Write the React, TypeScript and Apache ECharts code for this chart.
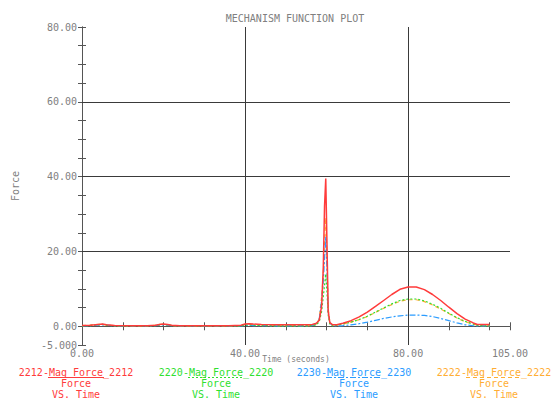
import React, { useEffect, useRef } from "react";
import * as echarts from "echarts";

// Sample times (seconds) shared by all four force traces
const time = [
  0, 2, 4, 5, 6, 8, 12, 16, 18, 19, 20, 21, 22, 24, 28, 32, 36, 39, 40, 41, 42, 44, 48, 52, 55,
  56.5, 57.5, 58.2, 58.8, 59.2, 59.5, 59.8, 60.1, 60.4, 60.8, 61.5, 62.5, 64, 66, 68, 70, 72, 74,
  76, 78, 80, 82, 84, 86, 88, 90, 92, 94, 96, 97, 98.5, 100,
];

const force2212 = [
  0.2, 0.3, 0.5, 0.6, 0.4, 0.2, 0.15, 0.15, 0.3, 0.5, 0.6, 0.5, 0.3, 0.15, 0.15, 0.15, 0.15, 0.3,
  0.6, 0.7, 0.6, 0.5, 0.4, 0.4, 0.4, 0.5, 0.8, 1.6, 5.5, 16, 32, 39.5, 22, 4, 1.0, 0.4, 0.4, 0.8,
  1.5, 2.5, 3.8, 5.3, 6.9, 8.5, 9.9, 10.5, 10.5, 9.8, 8.5, 6.9, 5.1, 3.4, 1.9, 0.9, 0.5, 0.5, 0.5,
];

const force2220 = [
  0.1, 0.2, 0.4, 0.5, 0.3, 0.1, 0.1, 0.1, 0.2, 0.4, 0.5, 0.4, 0.2, 0.1, 0.1, 0.1, 0.1, 0.1, 0.3,
  0.4, 0.3, 0.2, 0.1, 0.1, 0.1, 0.2, 0.4, 1.2, 4, 8, 11, 14, 9, 3, 0.6, 0.1, 0.3, 0.6, 1.1, 1.8,
  2.7, 3.8, 4.9, 6.0, 6.9, 7.3, 7.3, 6.8, 5.9, 4.8, 3.5, 2.3, 1.3, 0.6, 0.3, 0.1, 0.1,
];

const force2230 = [
  0.1, 0.2, 0.3, 0.4, 0.3, 0.1, 0.1, 0.1, 0.2, 0.3, 0.4, 0.3, 0.2, 0.1, 0.1, 0.1, 0.1, 0.1, 0.2,
  0.3, 0.2, 0.2, 0.1, 0.1, 0.1, 0.2, 0.5, 2, 7, 12, 18, 24, 15, 4, 0.8, 0.2, 0.1, 0.2, 0.4, 0.7,
  1.1, 1.6, 2.1, 2.5, 2.8, 3.0, 3.0, 2.9, 2.6, 2.1, 1.5, 0.9, 0.4, 0.15, 0.1, 0.1, 0.1,
];

const force2222 = [
  0.2, 0.3, 0.5, 0.5, 0.3, 0.2, 0.1, 0.1, 0.3, 0.5, 0.5, 0.4, 0.2, 0.1, 0.1, 0.1, 0.1, 0.2, 0.4,
  0.5, 0.4, 0.3, 0.2, 0.2, 0.2, 0.2, 0.5, 2, 8, 14, 22, 29, 18, 5, 1.0, 0.3, 0.3, 0.6, 1.1, 1.8,
  2.6, 3.7, 4.8, 5.8, 6.7, 7.1, 7.1, 6.6, 5.7, 4.6, 3.4, 2.2, 1.2, 0.6, 0.3, 0.2, 0.2,
];

const seriesNames = [
  "2212-Mag Force_2212",
  "2220-Mag Force_2220",
  "2230-Mag Force_2230",
  "2222-Mag Force_2222",
];
const seriesValues = [force2212, force2220, force2230, force2222];
const seriesColors = ["#ff3b3b", "#2fe02f", "#2b9cff", "#ffad33"];
const seriesDash: (number[] | "solid")[] = ["solid", [2, 2], [6, 2, 2, 2], [4, 3]];

const xLabelValues = [0, 40, 80, 105];
const yLabelValues = [-5, 0, 20, 40, 60, 80];
const xGridValues = [40, 80];
const yGridValues = [20, 40, 60];

const titleText = "MECHANISM FUNCTION PLOT";
const xAxisTitle = "Time (seconds)";
const yAxisTitle = "Force";
const legendLine2 = "Force";
const legendLine3 = "VS. Time";

const FONT = "'DejaVu Sans Mono', monospace";
const TEXT_GRAY = "#808080";
const AXIS_GRAY = "#555";

export default function App() {
  const ref = useRef<HTMLDivElement>(null);

  useEffect(() => {
    if (!ref.current) return;
    const chart = echarts.init(ref.current, undefined, { renderer: "svg" });

    const legendCenters = [76, 216, 354, 494];
    const legendGraphics: any[] = [];
    seriesNames.forEach((name, i) => {
      const cx = legendCenters[i];
      const color = seriesColors[i];
      [name, legendLine2, legendLine3].forEach((t, k) => {
        legendGraphics.push({
          type: "text",
          x: cx,
          y: [372, 383, 394][k],
          style: {
            text: t,
            fill: color,
            font: `10px ${FONT}`,
            align: "center",
            verticalAlign: "middle",
          },
        });
      });
      legendGraphics.push({
        type: "line",
        shape: { x1: cx - 28, y1: 377.5, x2: cx + 28, y2: 377.5 },
        style: {
          stroke: color,
          lineWidth: 1.2,
          lineDash: seriesDash[i] === "solid" ? null : (seriesDash[i] as number[]),
        },
      });
    });

    const fmt = (v: number, list: number[]) => {
      if (!list.some((x) => Math.abs(x - v) < 1e-6)) return "";
      return v < 0 ? v.toFixed(3) : v.toFixed(2);
    };

    const option: any = {
      animation: false,
      backgroundColor: "#fff",
      title: {
        text: titleText,
        left: 290,
        top: 8,
        textAlign: "center",
        textStyle: { fontFamily: FONT, fontSize: 10, fontWeight: "normal", color: TEXT_GRAY },
      },
      grid: { left: 82, right: 48, top: 27, bottom: 56 },
      xAxis: [
        {
          type: "value",
          min: 0,
          max: 105,
          interval: 10,
          position: "bottom",
          name: xAxisTitle,
          nameLocation: "middle",
          nameGap: 10,
          nameMoveOverlap: false,
          nameTextStyle: {
            fontFamily: FONT,
            fontSize: 8,
            color: TEXT_GRAY,
          },
          axisLine: { lineStyle: { color: AXIS_GRAY, width: 1 } },
          axisTick: { inside: true, length: 4, lineStyle: { color: AXIS_GRAY } },
          axisLabel: {
            margin: 3,
            fontFamily: FONT,
            fontSize: 10,
            color: TEXT_GRAY,
            showMinLabel: true,
            showMaxLabel: true,
            hideOverlap: false,
            formatter: (v: number) => fmt(v, xLabelValues),
          },
          splitLine: { show: false },
        },
        {
          type: "value",
          min: 0,
          max: 105,
          interval: 10,
          position: "top",
          axisLine: { lineStyle: { color: AXIS_GRAY, width: 1 } },
          axisTick: { inside: true, length: 4, lineStyle: { color: AXIS_GRAY } },
          axisLabel: { show: false },
          splitLine: { show: false },
        },
      ],
      yAxis: [
        {
          type: "value",
          min: -5,
          max: 80,
          interval: 5,
          position: "left",
          name: yAxisTitle,
          nameLocation: "middle",
          nameGap: 62,
          nameRotate: 90,
          nameTextStyle: { fontFamily: FONT, fontSize: 10, color: TEXT_GRAY },
          axisLine: { show: true, lineStyle: { color: AXIS_GRAY, width: 1 } },
          axisTick: { show: true, inside: true, length: 4, lineStyle: { color: AXIS_GRAY } },
          axisLabel: {
            margin: 5,
            fontFamily: FONT,
            fontSize: 10,
            color: TEXT_GRAY,
            showMinLabel: true,
            showMaxLabel: true,
            hideOverlap: false,
            formatter: (v: number) => fmt(v, yLabelValues),
          },
          splitLine: { show: false },
        },
        {
          type: "value",
          min: -5,
          max: 80,
          interval: 5,
          position: "right",
          axisLine: { show: true, lineStyle: { color: AXIS_GRAY, width: 1 } },
          axisTick: { show: true, inside: true, length: 4, lineStyle: { color: AXIS_GRAY } },
          axisLabel: { show: false },
          splitLine: { show: false },
        },
      ],
      series: [
        {
          name: "grid",
          type: "line",
          data: [],
          z: 1,
          markLine: {
            silent: true,
            symbol: "none",
            label: { show: false },
            lineStyle: { color: "#3a3a3a", width: 1, type: "solid" },
            data: [
              ...yGridValues.map((v) => ({ yAxis: v })),
              ...xGridValues.map((v) => ({ xAxis: v })),
            ],
          },
        },
        ...seriesNames.map((name, i) => ({
          name,
          type: "line",
          z: 5 - i,
          showSymbol: false,
          symbol: "none",
          data: time.map((t, k) => [t, seriesValues[i][k]]),
          lineStyle: {
            color: seriesColors[i],
            width: i === 0 ? 1.5 : 1.2,
            type: seriesDash[i],
          },
        })),
      ],
      graphic: legendGraphics,
    };

    chart.setOption(option);
    return () => chart.dispose();
  }, []);

  return <div ref={ref} style={{ width: 558, height: 401, position: "absolute", left: 0, top: 0 }} />;
}
